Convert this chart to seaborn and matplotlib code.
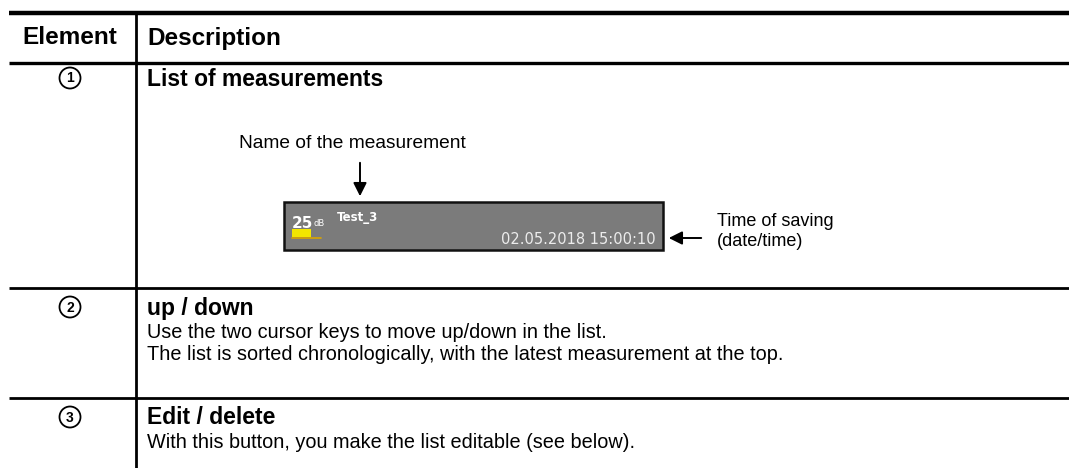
import matplotlib.pyplot as plt
import seaborn as sns
from matplotlib.patches import Circle, Rectangle

# --- Table content ---
headers = ['Element', 'Description']
element_numbers = ['1', '2', '3']
row_titles = ['List of measurements', 'up / down', 'Edit / delete']
row_lines = [
    [],
    ['Use the two cursor keys to move up/down in the list.',
     'The list is sorted chronologically, with the latest measurement at the top.'],
    ['With this button, you make the list editable (see below).'],
]
screen_level = '25'
screen_unit = 'dB'
screen_name = 'Test_3'
screen_time = '02.05.2018 15:00:10'
label_name = 'Name of the measurement'
label_time = ['Time of saving', '(date/time)']

# --- Configurations ---
sns.set_theme(style='white')
plt.rcParams['font.family'] = ['Liberation Sans', 'DejaVu Sans']
HEAD_SIZE = 17.5
TITLE_SIZE = 16.5
BODY_SIZE = 14.3
LABEL_SIZE = 13

W, H = 1069, 468
fig = plt.figure(figsize=(W / 100, H / 100), dpi=100)
ax = fig.add_axes([0, 0, 1, 1])
ax.set_xlim(0, W)
ax.set_ylim(H, 0)
ax.axis('off')

# table rules
x_left, x_div = 9, 136
ax.plot([x_left, W], [12.5, 12.5], color='black', lw=3.2, solid_capstyle='butt')
for y, lw in [(62.5, 2.4), (287.5, 2.0), (397.5, 2.0)]:
    ax.plot([x_left, W], [y, y], color='black', lw=lw, solid_capstyle='butt')
ax.plot([x_div, x_div], [12, H], color='black', lw=2.0)

# header
ax.text(70, 38, headers[0], ha='center', va='center', fontsize=HEAD_SIZE, fontweight='bold',
        color='black')
ax.text(147, 38, headers[1], ha='left', va='center', fontsize=HEAD_SIZE, fontweight='bold',
        color='black')

# rows
circle_y = [78, 307, 417]
title_y = [79, 308, 418]
for num, cy, title, ty, lines in zip(element_numbers, circle_y, row_titles, title_y, row_lines):
    ax.add_patch(Circle((70, cy), 10.5, fill=False, edgecolor='black', lw=1.3))
    ax.text(70, cy + 0.5, num, ha='center', va='center', fontsize=10, fontweight='bold',
            color='black')
    ax.text(147, ty, title, ha='left', va='center', fontsize=TITLE_SIZE, fontweight='bold',
            color='black')
    for i, line in enumerate(lines):
        ax.text(147, ty + 24 + i * 22, line, ha='left', va='center', fontsize=BODY_SIZE,
                color='black')

# device screen snippet
ax.add_patch(Rectangle((284, 202), 379, 48, facecolor='#7b7b7b', edgecolor='#111111', lw=1.8))
ax.text(292, 228, screen_level, ha='left', va='baseline', fontsize=11, fontweight='bold',
        color='white', family='DejaVu Sans')
ax.text(314, 226, screen_unit, ha='left', va='baseline', fontsize=6, color='white',
        family='DejaVu Sans')
ax.text(337, 221, screen_name, ha='left', va='baseline', fontsize=8.5, fontweight='bold',
        color='white', family='DejaVu Sans')
ax.add_patch(Rectangle((292, 229), 19, 8, facecolor='#f2e600', edgecolor='none'))
ax.plot([292, 321], [238, 238], color='#d9a400', lw=1.2)
ax.text(656, 244, screen_time, ha='right', va='baseline', fontsize=10.5, color='#ececec',
        family='DejaVu Sans')

# annotations
ax.text(352, 144, label_name, ha='center', va='center', fontsize=LABEL_SIZE + 0.8, color='black')
ax.annotate('', xy=(360, 199), xytext=(360, 160),
            arrowprops=dict(arrowstyle='-|>', color='black', lw=1.4, mutation_scale=20))
ax.annotate('', xy=(666, 238), xytext=(704, 238),
            arrowprops=dict(arrowstyle='-|>', color='black', lw=1.4, mutation_scale=20))
ax.text(717, 222, label_time[0], ha='left', va='center', fontsize=LABEL_SIZE, color='black')
ax.text(717, 242, label_time[1], ha='left', va='center', fontsize=LABEL_SIZE, color='black')

fig.savefig('out.png', dpi=100)
